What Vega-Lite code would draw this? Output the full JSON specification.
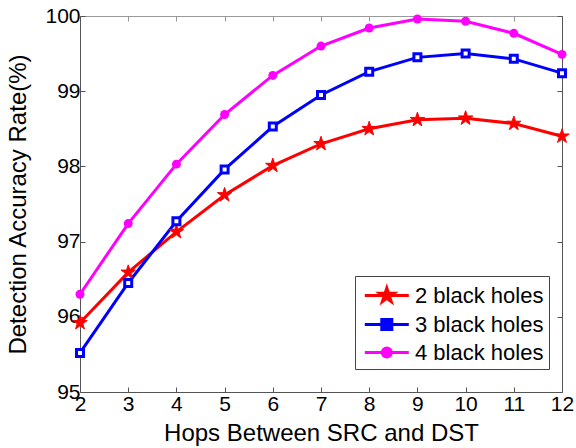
{
  "$schema": "https://vega.github.io/schema/vega-lite/v6.json",
  "width": 482,
  "height": 376,
  "autosize": {"type": "none"},
  "padding": {"left": 80, "top": 16, "right": 14, "bottom": 56},
  "background": "white",
  "config": {
    "font": "Liberation Sans",
    "view": {"stroke": null},
    "axis": {
      "grid": false,
      "domainColor": "#555555",
      "tickColor": "#555555",
      "labelColor": "#000000",
      "titleColor": "#000000",
      "labelFont": "Liberation Sans",
      "titleFont": "Liberation Sans",
      "titleFontWeight": "normal",
      "labelFontSize": 21,
      "titleFontSize": 24
    }
  },
  "data": {
    "values": [
      {"hops": 2, "series": "2 black holes", "rate": 95.92},
      {"hops": 3, "series": "2 black holes", "rate": 96.59},
      {"hops": 4, "series": "2 black holes", "rate": 97.13},
      {"hops": 5, "series": "2 black holes", "rate": 97.62},
      {"hops": 6, "series": "2 black holes", "rate": 98.01},
      {"hops": 7, "series": "2 black holes", "rate": 98.30},
      {"hops": 8, "series": "2 black holes", "rate": 98.50},
      {"hops": 9, "series": "2 black holes", "rate": 98.62},
      {"hops": 10, "series": "2 black holes", "rate": 98.64},
      {"hops": 11, "series": "2 black holes", "rate": 98.57},
      {"hops": 12, "series": "2 black holes", "rate": 98.40},
      {"hops": 2, "series": "3 black holes", "rate": 95.52},
      {"hops": 3, "series": "3 black holes", "rate": 96.45},
      {"hops": 4, "series": "3 black holes", "rate": 97.27},
      {"hops": 5, "series": "3 black holes", "rate": 97.96},
      {"hops": 6, "series": "3 black holes", "rate": 98.53},
      {"hops": 7, "series": "3 black holes", "rate": 98.95},
      {"hops": 8, "series": "3 black holes", "rate": 99.26},
      {"hops": 9, "series": "3 black holes", "rate": 99.45},
      {"hops": 10, "series": "3 black holes", "rate": 99.50},
      {"hops": 11, "series": "3 black holes", "rate": 99.43},
      {"hops": 12, "series": "3 black holes", "rate": 99.24},
      {"hops": 2, "series": "4 black holes", "rate": 96.30},
      {"hops": 3, "series": "4 black holes", "rate": 97.24},
      {"hops": 4, "series": "4 black holes", "rate": 98.03},
      {"hops": 5, "series": "4 black holes", "rate": 98.69},
      {"hops": 6, "series": "4 black holes", "rate": 99.21},
      {"hops": 7, "series": "4 black holes", "rate": 99.60},
      {"hops": 8, "series": "4 black holes", "rate": 99.84},
      {"hops": 9, "series": "4 black holes", "rate": 99.96},
      {"hops": 10, "series": "4 black holes", "rate": 99.93},
      {"hops": 11, "series": "4 black holes", "rate": 99.77},
      {"hops": 12, "series": "4 black holes", "rate": 99.49}
    ]
  },
  "resolve": {"axis": {"x": "independent", "y": "independent"}},
  "layer": [
    {
      "mark": {"type": "line", "strokeWidth": 3},
      "encoding": {
        "x": {
          "field": "hops", "type": "quantitative",
          "scale": {"domain": [2, 12], "nice": false, "zero": false},
          "axis": {"orient": "bottom", "values": [2,3,4,5,6,7,8,9,10,11,12], "tickSize": -5, "labelPadding": 6, "title": "Hops Between SRC and DST", "titlePadding": 7, "labelFlush": false}
        },
        "y": {
          "field": "rate", "type": "quantitative",
          "scale": {"domain": [95, 100], "nice": false, "zero": false},
          "axis": {"orient": "left", "values": [95,96,97,98,99,100], "tickSize": -5, "labelPadding": 5, "title": "Detection Accuracy Rate(%)", "titlePadding": 14, "labelFlush": false}
        },
        "color": {
          "field": "series", "type": "nominal",
          "scale": {"domain": ["2 black holes", "3 black holes", "4 black holes"], "range": ["#ff0000", "#0000ff", "#ff00ff"]},
          "legend": {
            "title": null,
            "orient": "none",
            "legendX": 275,
            "legendY": 260,
            "symbolSize": 676,
            "symbolStrokeWidth": 3,
            "labelOffset": 26,
            "rowPadding": 2,
            "padding": 5,
            "strokeColor": "#444444",
            "fillColor": "white",
            "labelFontSize": 22,
            "labelFont": "Liberation Sans",
            "labelColor": "#000000",
            "labelLimit": 0,
            "encode": {
              "symbols": {
                "update": {
                  "shape": {"signal": "datum.value === '2 black holes' ? 'M-0.746,0H2.638M0.946,-0.577L1.076,-0.178L1.495,-0.178L1.156,0.068L1.285,0.467L0.946,0.22L0.607,0.467L0.737,0.068L0.397,-0.178L0.817,-0.178Z' : datum.value === '3 black holes' ? 'M-0.746,0H2.638M0.561,-0.385H1.331V0.385H0.561Z' : 'M-0.746,0H2.638M0.6,0A0.346,0.346 0 1,0 1.292,0A0.346,0.346 0 1,0 0.6,0Z'"},
                  "fill": {"signal": "scale('color', datum.value)"},
                  "stroke": {"signal": "scale('color', datum.value)"},
                  "strokeWidth": {"value": 3},
                  "opacity": {"value": 1}
                }
              }
            }
          }
        }
      }
    },
    {
      "transform": [{"filter": "datum.series === '2 black holes'"}],
      "mark": {"type": "point", "filled": true, "shape": "M0,-1L0.2245,-0.309L0.951,-0.309L0.363,0.118L0.588,0.809L0,0.382L-0.588,0.809L-0.363,0.118L-0.951,-0.309L-0.2245,-0.309Z", "size": 230, "color": "#ff0000", "stroke": "#ff0000", "strokeWidth": 1, "opacity": 1},
      "encoding": {
        "x": {"field": "hops", "type": "quantitative", "axis": null},
        "y": {"field": "rate", "type": "quantitative", "axis": null}
      }
    },
    {
      "transform": [{"filter": "datum.series === '3 black holes'"}],
      "mark": {"type": "point", "shape": "square", "size": 49, "fill": "white", "stroke": "#0000ff", "strokeWidth": 3, "opacity": 1, "fillOpacity": 1},
      "encoding": {
        "x": {"field": "hops", "type": "quantitative", "axis": null},
        "y": {"field": "rate", "type": "quantitative", "axis": null}
      }
    },
    {
      "transform": [{"filter": "datum.series === '4 black holes'"}],
      "mark": {"type": "point", "filled": true, "shape": "circle", "size": 80, "color": "#ff00ff", "opacity": 1},
      "encoding": {
        "x": {"field": "hops", "type": "quantitative", "axis": null},
        "y": {"field": "rate", "type": "quantitative", "axis": null}
      }
    },
    {
      "mark": {"type": "point", "opacity": 0},
      "encoding": {
        "x": {"field": "hops", "type": "quantitative",
          "axis": {"orient": "top", "values": [2,3,4,5,6,7,8,9,10,11,12], "tickSize": -5, "labels": false, "title": null, "domainColor": "#999999", "tickColor": "#999999"}},
        "y": {"field": "rate", "type": "quantitative",
          "axis": {"orient": "right", "values": [95,96,97,98,99,100], "tickSize": -5, "labels": false, "title": null}}
      }
    }
  ]
}
